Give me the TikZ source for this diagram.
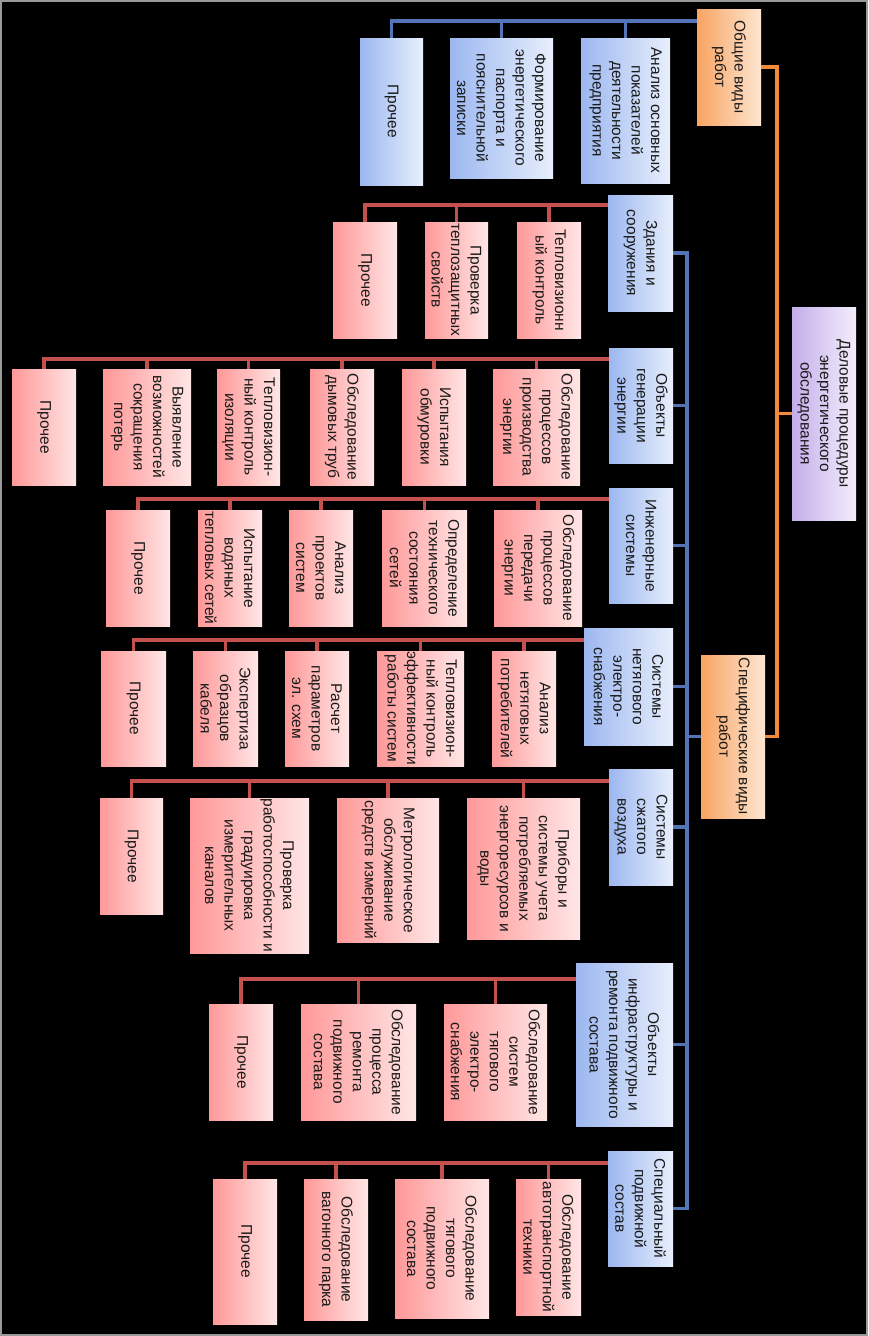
\documentclass[tikz,border=0pt]{standalone}
\usepackage{fontspec}
\setmainfont{Liberation Sans}
\usetikzlibrary{fit,calc}
\definecolor{bla}{HTML}{9CB7F0}
\definecolor{blb}{HTML}{E8EFFC}
\definecolor{pka}{HTML}{FF9898}
\definecolor{pkb}{HTML}{FFE6E6}
\definecolor{ora}{HTML}{F9A462}
\definecolor{orb}{HTML}{FDE6D2}
\definecolor{pua}{HTML}{C4AEEA}
\definecolor{pub}{HTML}{F3EEFB}
\definecolor{lnb}{HTML}{5474B8}
\definecolor{lnr}{HTML}{C4514E}
\definecolor{lno}{HTML}{F28A3A}
\definecolor{txtc}{HTML}{1A1A1A}
\definecolor{frm}{HTML}{9A9A9A}
\tikzset{
  box/.style={rectangle, inner sep=0pt, outer sep=0pt, draw=none},
  bluebox/.style={box, left color=bla, right color=blb},
  pinkbox/.style={box, left color=pka, right color=pkb},
  orbox/.style={box, left color=ora, right color=orb},
  rootbox/.style={box, left color=pua, right color=pub},
  txt/.style={rotate=-90, align=center, font=\fontsize{15.5}{19.5}\selectfont, text=txtc, inner sep=0pt},
  bline/.style={draw=lnb, line width=3.6pt},
  rline/.style={draw=lnr, line width=3.6pt},
  oline/.style={draw=lno, line width=3.6pt}
}
\newcommand\kbox[7]{%
  \node[#2, fit={(#3,#4) (#5,#6)}] (#1) {};
  \node[txt] (#1t) at (#1.center) {#7};}
\begin{document}
\begin{tikzpicture}[x=1pt,y=-1pt]
\fill[black] (0,0) rectangle (868,1336);
\draw[frm, line width=2pt] (1,1) rectangle (867,1335);
\useasboundingbox (0,0) rectangle (868,1336);

% root and top level
\kbox{rt}{rootbox}{792}{307}{856}{520}{Деловые процедуры\\энергетического\\обследования}
\kbox{ob}{orbox}{697}{9}{761}{125}{Общие виды\\работ}
\kbox{sp}{orbox}{701}{655}{765}{818}{Специфические виды\\работ}

% general works
\kbox{oba}{bluebox}{581}{38}{670}{183}{Анализ основных\\показателей\\деятельности\\предприятия}
\kbox{obb}{bluebox}{450}{38}{553}{178}{Формирование\\энергетического\\паспорта и\\пояснительной\\записки}
\kbox{obc}{bluebox}{360}{38}{423}{185}{Прочее}

% categories
\kbox{ca}{bluebox}{608}{195}{673}{311}{Здания и\\сооружения}
\kbox{cb}{bluebox}{609}{348}{673}{463}{Объекты\\генерации\\энергии}
\kbox{cc}{bluebox}{609}{488}{673}{603}{Инженерные\\системы}
\kbox{cd}{bluebox}{584}{628}{673}{745}{Системы\\нетягового\\электро-\\снабжения}
\kbox{ce}{bluebox}{609}{769}{673}{885}{Системы\\сжатого\\воздуха}
\kbox{cf}{bluebox}{576}{963}{673}{1126}{Объекты\\инфраструктуры и\\ремонта подвижного\\состава}
\kbox{cg}{bluebox}{608}{1151}{673}{1266}{Специальный\\подвижной\\состав}

% children of ca
\kbox{ca1}{pinkbox}{517}{222}{581}{338}{Тепловизионн\\ый контроль}
\kbox{ca2}{pinkbox}{425}{222}{488}{338}{Проверка\\теплозащитных\\свойств}
\kbox{ca3}{pinkbox}{333}{222}{397}{338}{Прочее}

% children of cb
\kbox{cb1}{pinkbox}{493}{369}{580}{485}{Обследование\\процессов\\производства\\энергии}
\kbox{cb2}{pinkbox}{402}{369}{466}{485}{Испытания\\обмуровки}
\kbox{cb3}{pinkbox}{310}{369}{374}{485}{Обследование\\дымовых труб}
\kbox{cb4}{pinkbox}{217}{369}{280}{485}{Тепловизион-\\ный контроль\\изоляции}
\kbox{cb5}{pinkbox}{103}{369}{191}{485}{Выявление\\возможностей\\сокращения\\потерь}
\kbox{cb6}{pinkbox}{12}{369}{76}{485}{Прочее}

% children of cc
\kbox{cc1}{pinkbox}{494}{510}{582}{626}{Обследование\\процессов\\передачи\\энергии}
\kbox{cc2}{pinkbox}{382}{510}{467}{626}{Определение\\технического\\состояния\\сетей}
\kbox{cc3}{pinkbox}{289}{510}{353}{626}{Анализ\\проектов\\систем}
\kbox{cc4}{pinkbox}{198}{510}{262}{626}{Испытание\\водяных\\тепловых сетей}
\kbox{cc5}{pinkbox}{106}{510}{170}{626}{Прочее}

% children of cd
\kbox{cd1}{pinkbox}{492}{651}{556}{766}{Анализ\\нетяговых\\потребителей}
\kbox{cd2}{pinkbox}{377}{651}{464}{766}{Тепловизион-\\ный контроль\\эффективности\\работы систем}
\kbox{cd3}{pinkbox}{285}{651}{349}{766}{Расчет\\параметров\\эл. схем}
\kbox{cd4}{pinkbox}{193}{651}{258}{766}{Экспертиза\\образцов\\кабеля}
\kbox{cd5}{pinkbox}{101}{651}{166}{766}{Прочее}

% children of ce
\kbox{ce1}{pinkbox}{467}{798}{580}{939}{Приборы и\\системы учета\\потребляемых\\энергоресурсов и\\воды}
\kbox{ce2}{pinkbox}{337}{798}{439}{942}{Метрологическое\\обслуживание\\средств измерений}
\kbox{ce3}{pinkbox}{190}{798}{309}{953}{Проверка\\работоспособности и\\градуировка\\измерительных\\каналов}
\kbox{ce4}{pinkbox}{100}{798}{163}{914}{Прочее}

% children of cf
\kbox{cf1}{pinkbox}{444}{1004}{547}{1120}{Обследование\\систем\\тягового\\электро-\\снабжения}
\kbox{cf2}{pinkbox}{301}{1004}{416}{1120}{Обследование\\процесса\\ремонта\\подвижного\\состава}
\kbox{cf3}{pinkbox}{209}{1004}{273}{1120}{Прочее}

% children of cg
\kbox{cg1}{pinkbox}{516}{1179}{581}{1315}{Обследование\\автотранспортной\\техники}
\kbox{cg2}{pinkbox}{395}{1179}{489}{1318}{Обследование\\тягового\\подвижного\\состава}
\kbox{cg3}{pinkbox}{304}{1179}{368}{1320}{Обследование\\вагонного парка}
\kbox{cg4}{pinkbox}{213}{1179}{277}{1324}{Прочее}

% orange connectors
\coordinate (rtb) at ($(rt.west)+(-15,0)$);
\draw[oline] (rt.west) -- (rtb) |- (ob.east);
\draw[oline] (rtb) |- (sp.east);

% blue connectors from specific works
\coordinate (spb) at ($(sp.west)+(-14,0)$);
\draw[bline] (sp.west) -- (spb);
\foreach \c in {ca,cb,cc,cd,ce,cf,cg}{\draw[bline] (spb) |- (\c.east);}

% blue connectors from general works
\coordinate (obus) at ($(ob.north west)+(0,12)$);
\foreach \c in {oba,obb,obc}{\draw[bline] (obus) -| (\c.north);}

% red connectors
\coordinate (cab) at ($(ca.north west)+(0,10)$);
\foreach \c in {ca1,ca2,ca3}{\draw[rline] (cab) -| (\c.north);}
\coordinate (cbb) at ($(cb.north west)+(0,11)$);
\foreach \c in {cb1,cb2,cb3,cb4,cb5,cb6}{\draw[rline] (cbb) -| (\c.north);}
\coordinate (ccb) at ($(cc.north west)+(0,11)$);
\foreach \c in {cc1,cc2,cc3,cc4,cc5}{\draw[rline] (ccb) -| (\c.north);}
\coordinate (cdb) at ($(cd.north west)+(0,12)$);
\foreach \c in {cd1,cd2,cd3,cd4,cd5}{\draw[rline] (cdb) -| (\c.north);}
\coordinate (ceb) at ($(ce.north west)+(0,12)$);
\foreach \c in {ce1,ce2,ce3,ce4}{\draw[rline] (ceb) -| (\c.north);}
\coordinate (cfb) at ($(cf.north west)+(0,16)$);
\foreach \c in {cf1,cf2,cf3}{\draw[rline] (cfb) -| (\c.north);}
\coordinate (cgb) at ($(cg.north west)+(0,12)$);
\foreach \c in {cg1,cg2,cg3,cg4}{\draw[rline] (cgb) -| (\c.north);}
\end{tikzpicture}
\end{document}
